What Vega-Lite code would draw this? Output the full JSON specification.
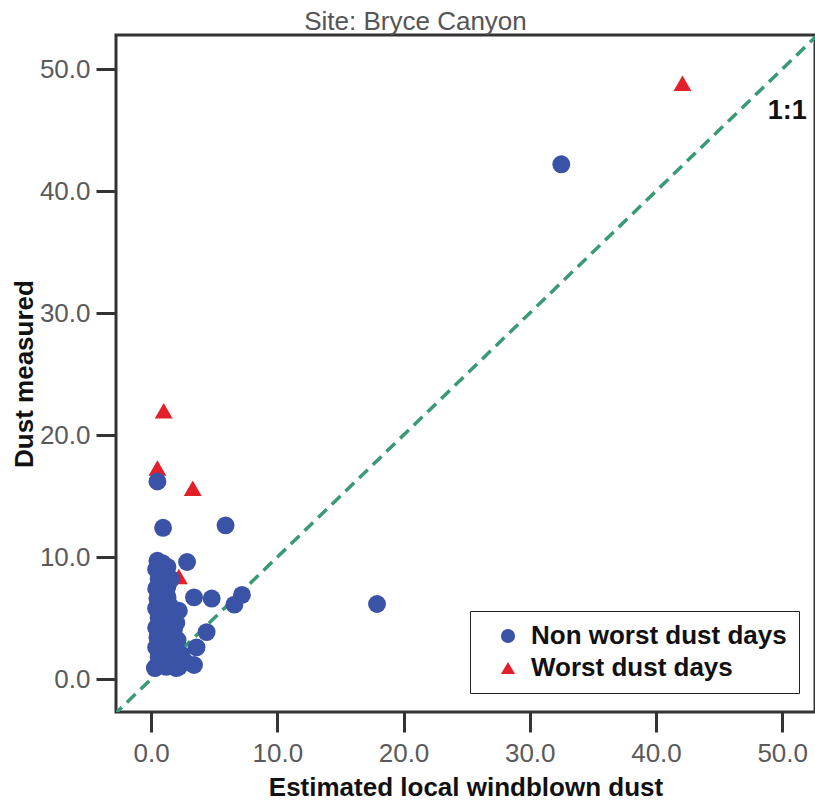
{
  "$schema": "https://vega.github.io/schema/vega-lite/v6.json",
  "autosize": "none",
  "width": 699,
  "height": 677,
  "padding": {"left": 116, "top": 35, "right": 0, "bottom": 90},
  "background": "white",
  "config": {
    "font": "Liberation Sans",
    "view": {"stroke": "#333333", "strokeWidth": 3},
    "axis": {"grid": false, "domain": false}
  },
  "title": {
    "text": "Site: Bryce Canyon",
    "fontSize": 26,
    "fontWeight": "normal",
    "color": "#555555",
    "font": "Liberation Sans",
    "anchor": "middle",
    "dx": -50,
    "offset": 0
  },
  "datasets": {
    "pts": [
      {"x": 42.1, "y": 48.85, "group": "Worst dust days"},
      {"x": 1.0, "y": 22.0, "group": "Worst dust days"},
      {"x": 0.5, "y": 17.3, "group": "Worst dust days"},
      {"x": 3.3, "y": 15.65, "group": "Worst dust days"},
      {"x": 2.2, "y": 8.4, "group": "Worst dust days"},
      {"x": 32.5, "y": 42.2, "group": "Non worst dust days"},
      {"x": 17.9, "y": 6.15, "group": "Non worst dust days"},
      {"x": 0.5, "y": 16.2, "group": "Non worst dust days"},
      {"x": 0.95, "y": 12.4, "group": "Non worst dust days"},
      {"x": 5.9, "y": 12.6, "group": "Non worst dust days"},
      {"x": 0.4, "y": 1.0, "group": "Non worst dust days"},
      {"x": 0.6, "y": 1.8, "group": "Non worst dust days"},
      {"x": 0.4, "y": 2.6, "group": "Non worst dust days"},
      {"x": 0.5, "y": 3.4, "group": "Non worst dust days"},
      {"x": 0.4, "y": 4.2, "group": "Non worst dust days"},
      {"x": 0.6, "y": 5.0, "group": "Non worst dust days"},
      {"x": 0.4, "y": 5.8, "group": "Non worst dust days"},
      {"x": 0.5, "y": 6.6, "group": "Non worst dust days"},
      {"x": 0.4, "y": 7.4, "group": "Non worst dust days"},
      {"x": 0.6, "y": 8.2, "group": "Non worst dust days"},
      {"x": 0.4, "y": 9.0, "group": "Non worst dust days"},
      {"x": 0.5, "y": 9.7, "group": "Non worst dust days"},
      {"x": 0.7, "y": 1.2, "group": "Non worst dust days"},
      {"x": 0.8, "y": 2.0, "group": "Non worst dust days"},
      {"x": 0.7, "y": 2.9, "group": "Non worst dust days"},
      {"x": 0.8, "y": 3.7, "group": "Non worst dust days"},
      {"x": 0.7, "y": 4.5, "group": "Non worst dust days"},
      {"x": 0.8, "y": 5.3, "group": "Non worst dust days"},
      {"x": 0.7, "y": 6.1, "group": "Non worst dust days"},
      {"x": 0.8, "y": 6.9, "group": "Non worst dust days"},
      {"x": 0.7, "y": 7.7, "group": "Non worst dust days"},
      {"x": 0.8, "y": 8.5, "group": "Non worst dust days"},
      {"x": 0.7, "y": 9.3, "group": "Non worst dust days"},
      {"x": 1.0, "y": 1.5, "group": "Non worst dust days"},
      {"x": 1.1, "y": 2.3, "group": "Non worst dust days"},
      {"x": 0.9, "y": 3.1, "group": "Non worst dust days"},
      {"x": 1.2, "y": 3.9, "group": "Non worst dust days"},
      {"x": 1.0, "y": 4.7, "group": "Non worst dust days"},
      {"x": 1.1, "y": 5.5, "group": "Non worst dust days"},
      {"x": 0.9, "y": 6.3, "group": "Non worst dust days"},
      {"x": 1.2, "y": 7.1, "group": "Non worst dust days"},
      {"x": 1.0, "y": 7.9, "group": "Non worst dust days"},
      {"x": 1.1, "y": 8.7, "group": "Non worst dust days"},
      {"x": 0.9, "y": 9.5, "group": "Non worst dust days"},
      {"x": 1.3, "y": 1.9, "group": "Non worst dust days"},
      {"x": 1.4, "y": 3.0, "group": "Non worst dust days"},
      {"x": 1.3, "y": 4.4, "group": "Non worst dust days"},
      {"x": 1.4, "y": 5.8, "group": "Non worst dust days"},
      {"x": 1.3, "y": 6.7, "group": "Non worst dust days"},
      {"x": 1.3, "y": 7.6, "group": "Non worst dust days"},
      {"x": 1.5, "y": 3.6, "group": "Non worst dust days"},
      {"x": 1.9, "y": 1.8, "group": "Non worst dust days"},
      {"x": 1.2, "y": 1.0, "group": "Non worst dust days"},
      {"x": 1.6, "y": 8.2, "group": "Non worst dust days"},
      {"x": 1.6, "y": 5.2, "group": "Non worst dust days"},
      {"x": 2.0, "y": 4.6, "group": "Non worst dust days"},
      {"x": 2.2, "y": 5.6, "group": "Non worst dust days"},
      {"x": 1.8, "y": 4.0, "group": "Non worst dust days"},
      {"x": 2.1, "y": 3.2, "group": "Non worst dust days"},
      {"x": 1.7, "y": 2.6, "group": "Non worst dust days"},
      {"x": 2.4, "y": 2.0, "group": "Non worst dust days"},
      {"x": 2.7, "y": 1.4, "group": "Non worst dust days"},
      {"x": 2.2, "y": 1.0, "group": "Non worst dust days"},
      {"x": 1.6, "y": 1.2, "group": "Non worst dust days"},
      {"x": 1.5, "y": 6.0, "group": "Non worst dust days"},
      {"x": 1.4, "y": 8.0, "group": "Non worst dust days"},
      {"x": 1.3, "y": 9.2, "group": "Non worst dust days"},
      {"x": 2.0, "y": 0.9, "group": "Non worst dust days"},
      {"x": 2.85, "y": 9.6, "group": "Non worst dust days"},
      {"x": 3.4, "y": 6.7, "group": "Non worst dust days"},
      {"x": 4.8, "y": 6.6, "group": "Non worst dust days"},
      {"x": 6.6, "y": 6.1, "group": "Non worst dust days"},
      {"x": 7.2, "y": 6.9, "group": "Non worst dust days"},
      {"x": 4.4, "y": 3.85, "group": "Non worst dust days"},
      {"x": 3.6, "y": 2.6, "group": "Non worst dust days"},
      {"x": 3.4, "y": 1.15, "group": "Non worst dust days"},
      {"x": 0.3, "y": 0.9, "group": "Non worst dust days"}
    ],
    "oneone": [
      {"x": -3, "y": -3},
      {"x": 55, "y": 55}
    ],
    "lab": [
      {"x": 50.4, "y": 46.6, "label": "1:1"}
    ]
  },
  "layer": [
    {
      "data": {"name": "oneone"},
      "mark": {"type": "line", "color": "#3a9a74", "strokeWidth": 3.5, "strokeDash": [12, 7], "clip": true},
      "encoding": {
        "x": {"field": "x", "type": "quantitative"},
        "y": {"field": "y", "type": "quantitative"}
      }
    },
    {
      "data": {"name": "pts"},
      "mark": {"type": "point", "filled": true, "opacity": 1, "size": 320},
      "encoding": {
        "x": {
          "field": "x", "type": "quantitative",
          "scale": {"domain": [-2.78, 52.6], "nice": false, "zero": false},
          "axis": {
            "values": [0, 10, 20, 30, 40, 50], "format": ".1f",
            "title": "Estimated local windblown dust",
            "titleFontSize": 26, "titleFontWeight": "bold", "titleColor": "#111111", "titlePadding": 8,
            "labelFontSize": 26, "labelColor": "#5a5a5a", "labelPadding": 8,
            "tickSize": 20, "tickWidth": 3, "tickColor": "#333333"
          }
        },
        "y": {
          "field": "y", "type": "quantitative",
          "scale": {"domain": [-2.7, 52.8], "nice": false, "zero": false},
          "axis": {
            "values": [0, 10, 20, 30, 40, 50], "format": ".1f",
            "title": "Dust measured",
            "titleFontSize": 26, "titleFontWeight": "bold", "titleColor": "#111111", "titlePadding": 2,
            "labelFontSize": 26, "labelColor": "#5a5a5a", "labelPadding": 6,
            "tickSize": 20, "tickWidth": 3, "tickColor": "#333333"
          }
        },
        "color": {
          "field": "group", "type": "nominal",
          "scale": {"domain": ["Non worst dust days", "Worst dust days"], "range": ["#3a53a6", "#e3202a"]},
          "legend": {
            "title": null,
            "orient": "none",
            "legendX": 354,
            "legendY": 576,
            "padding": 12,
            "rowPadding": 6,
            "strokeColor": "#222222",
            "fillColor": "white",
            "labelFontSize": 26,
            "labelFontWeight": "bold",
            "labelColor": "#111111",
            "labelOffset": 10,
            "symbolSize": 200,
            "symbolOffset": 13,
            "labelLimit": 400
          }
        },
        "shape": {
          "field": "group", "type": "nominal",
          "scale": {"domain": ["Non worst dust days", "Worst dust days"], "range": ["circle", "triangle-up"]},
          "legend": null
        }
      }
    },
    {
      "data": {"name": "lab"},
      "mark": {"type": "text", "fontSize": 27, "fontWeight": "bold", "color": "#111111", "font": "Liberation Sans"},
      "encoding": {
        "x": {"field": "x", "type": "quantitative"},
        "y": {"field": "y", "type": "quantitative"},
        "text": {"field": "label"}
      }
    }
  ]
}
